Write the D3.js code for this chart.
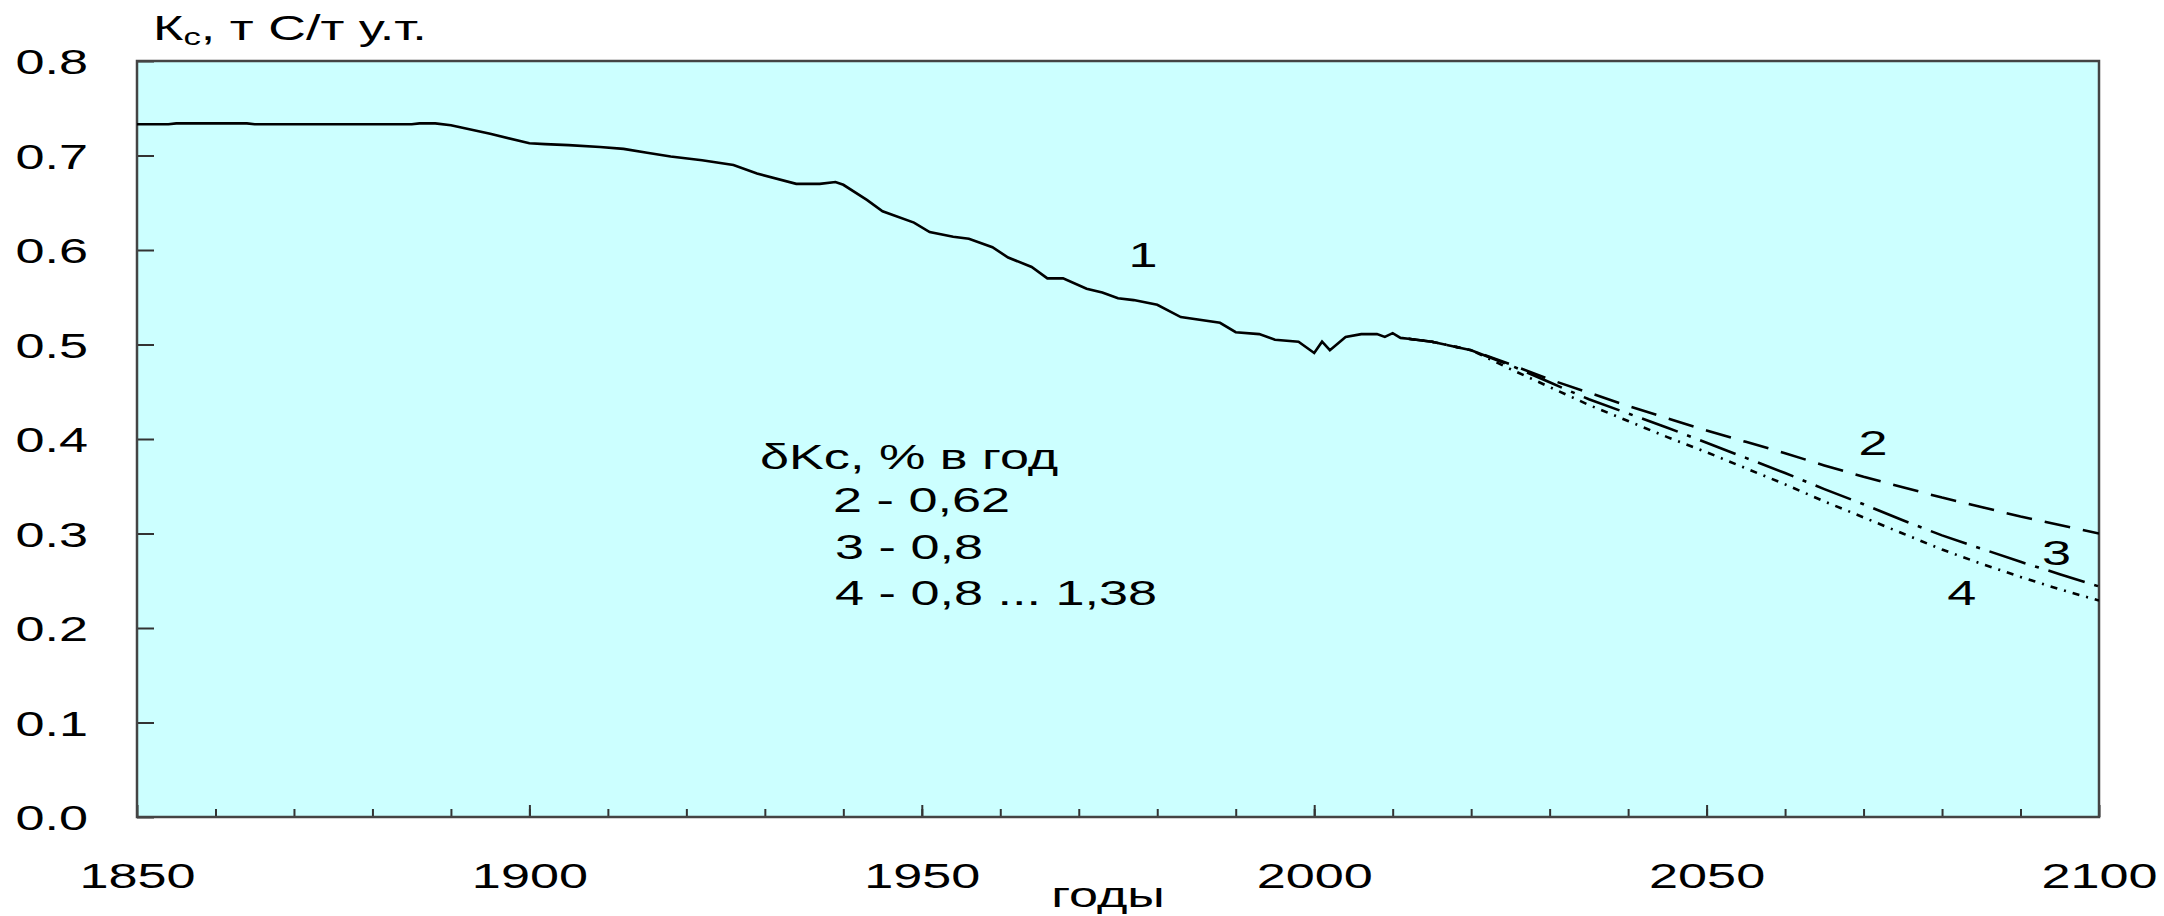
<!DOCTYPE html>
<html>
<head>
<meta charset="utf-8">
<style>
  body { margin: 0; background: #fff; }
  svg text { font-family: "Liberation Sans", Arial, sans-serif; fill: #000; }
</style>
</head>
<body>
<div id="chart"></div>
<script src="https://cdn.jsdelivr.net/npm/d3@7"></script>
<script>
// historical carbon intensity (curve 1)
var histYears = [1850,1854,1855,1864,1865,1885,1886,1888,1890,1895,
                 1900,1902,1905,1909,1912,1915,1918,1922,1926,1929,
                 1934,1937,1939,1940,1943,1945,1949,1951,1954,1956,
                 1959,1961,1964,1966,1968,1971,1973,1975,1977,1980,
                 1983,1988,1990,1993,1995,1998,2000,2001,2002,2004,
                 2006,2008,2009,2010,2011,2012];
var histKc = [0.733,0.733,0.734,0.734,0.733,0.733,0.734,0.734,0.732,0.723,
              0.713,0.712,0.711,0.709,0.707,0.703,0.699,0.695,0.690,0.681,
              0.670,0.670,0.672,0.669,0.653,0.641,0.629,0.619,0.614,0.612,
              0.603,0.592,0.582,0.570,0.570,0.559,0.555,0.549,0.547,0.542,
              0.529,0.523,0.513,0.511,0.505,0.503,0.491,0.503,0.494,0.508,
              0.511,0.511,0.508,0.512,0.507,0.506];

// projections (curves 2, 3, 4)
var projYears = [2012,2015,2020,2025,2030,2035,2040,2045,2050,2055,
                 2060,2065,2070,2075,2080,2085,2090,2095,2100];
var kc2 = [0.506,0.503,0.494,0.479,0.463,0.449,0.435,0.422,0.409,0.397,
           0.385,0.372,0.360,0.349,0.338,0.328,0.318,0.309,0.300];
var kc3 = [0.506,0.503,0.494,0.478,0.460,0.442,0.427,0.412,0.396,0.380,
           0.364,0.347,0.331,0.314,0.298,0.284,0.270,0.257,0.244];
var kc4 = [0.506,0.503,0.494,0.474,0.455,0.436,0.419,0.402,0.386,0.369,
           0.352,0.334,0.317,0.300,0.283,0.268,0.254,0.241,0.229];

var xTicks = [1850,1900,1950,2000,2050,2100];
var yTicks = [0,0.1,0.2,0.3,0.4,0.5,0.6,0.7,0.8];
var legendTitle = "δKc, % в год";
var legendLines = ["2 - 0,62","3 - 0,8","4 - 0,8 ... 1,38"];
var curveLabels = ["1","2","3","4"];
var labelAt = [[1978.2,0.582],[2071.2,0.383],[2094.6,0.267],[2082.5,0.224]];

var width = 2164, height = 916;
var margin = {top: 61, right: 65, bottom: 99, left: 137};
var w = width - margin.left - margin.right,
    h = height - margin.top - margin.bottom;
var sx = 1.45; // the original text is stretched horizontally

var svg = d3.select("#chart").append("svg")
    .attr("width", width)
    .attr("height", height);

var g = svg.append("g")
    .attr("transform", "translate(" + margin.left + "," + margin.top + ")");

var x = d3.scaleLinear().domain([1850, 2100]).range([0, w]);
var y = d3.scaleLinear().domain([0, 0.8]).range([h, 0]);

g.append("rect")
    .attr("width", w).attr("height", h)
    .attr("fill", "#ccffff");

g.append("clipPath").attr("id", "clip")
    .append("rect").attr("width", w).attr("height", h);

// y axis, ticks inside
var gy = g.append("g").call(d3.axisLeft(y).tickValues(yTicks)
    .tickSize(-17).tickSizeOuter(0).tickPadding(0).tickFormat(d3.format(".1f")));
gy.select(".domain").remove();
gy.selectAll(".tick line").attr("stroke", "#333").attr("stroke-width", 2);
gy.selectAll(".tick text")
    .attr("x", null).attr("dy", null)
    .attr("transform", "translate(-49,12.5) scale(" + sx + ",1)")
    .style("font-size", "36px");

// x axis minor ticks
var gxm = g.append("g").attr("transform", "translate(0," + h + ")")
    .call(d3.axisBottom(x).tickValues(d3.range(1860, 2100, 10))
        .tickSize(-8).tickSizeOuter(0).tickFormat(""));
gxm.select(".domain").remove();
gxm.selectAll(".tick line").attr("stroke", "#333").attr("stroke-width", 2);

// x axis major ticks + labels
var gx = g.append("g").attr("transform", "translate(0," + h + ")")
    .call(d3.axisBottom(x).tickValues(xTicks)
        .tickSize(-12).tickSizeOuter(0).tickFormat(d3.format("d")));
gx.select(".domain").remove();
gx.selectAll(".tick line").attr("stroke", "#333").attr("stroke-width", 2);
gx.selectAll(".tick text")
    .attr("y", null).attr("dy", null)
    .attr("transform", "translate(0,71) scale(" + sx + ",1)")
    .style("font-size", "36px");

// frame
g.append("rect")
    .attr("width", w).attr("height", h)
    .attr("fill", "none")
    .attr("stroke", "#444")
    .attr("stroke-width", 2.5);

var line = d3.line()
    .x(function (d) { return x(d[0]); })
    .y(function (d) { return y(d[1]); });

var series = [
    {data: d3.zip(histYears, histKc), dash: null},
    {data: d3.zip(projYears, kc2), dash: "26,13"},
    {data: d3.zip(projYears, kc3), dash: "38,10,4,10"},
    {data: d3.zip(projYears, kc4), dash: "7,7,2,7"}
];

g.append("g").attr("clip-path", "url(#clip)")
  .selectAll("path")
  .data(series)
  .enter().append("path")
    .attr("d", function (d) { return line(d.data); })
    .attr("fill", "none")
    .attr("stroke", "#000")
    .attr("stroke-width", 2.6)
    .attr("stroke-dasharray", function (d) { return d.dash; });

// curve numbers
g.selectAll(".clabel")
  .data(curveLabels)
  .enter().append("text")
    .attr("class", "clabel")
    .attr("text-anchor", "middle")
    .style("font-size", "36px")
    .attr("transform", function (d, i) {
        return "translate(" + x(labelAt[i][0]) + "," + y(labelAt[i][1]) + ") scale(" + sx + ",1)";
    })
    .text(function (d) { return d; });

// legend text
svg.append("text")
    .attr("transform", "translate(760,469) scale(" + sx + ",1)")
    .style("font-size", "36px")
    .text(legendTitle);

svg.selectAll(".leg")
  .data(legendLines)
  .enter().append("text")
    .attr("class", "leg")
    .attr("transform", function (d, i) {
        return "translate(" + (i == 0 ? 833 : 835) + "," + (512 + i * 46.5) + ") scale(" + sx + ",1)";
    })
    .style("font-size", "36px")
    .text(function (d) { return d; });

// y title with subscript
var title = svg.append("text")
    .attr("transform", "translate(153,40) scale(" + sx + ",1)")
    .style("font-size", "36px");
title.append("tspan").text("К");
title.append("tspan").attr("dy", 5).style("font-size", "24px").text("с");
title.append("tspan").attr("dy", -5).text(", т С/т у.т.");

// x title
svg.append("text")
    .attr("text-anchor", "middle")
    .attr("transform", "translate(1108,907) scale(" + sx + ",1)")
    .style("font-size", "36px")
    .text("годы");
</script>
</body>
</html>
